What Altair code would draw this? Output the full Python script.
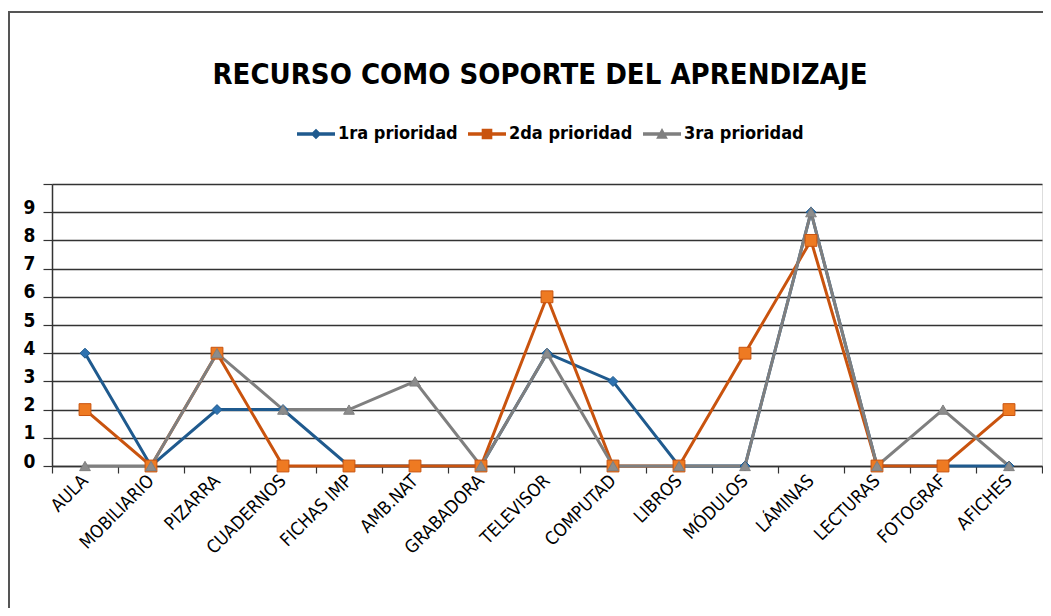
import altair as alt
import pandas as pd

categories = ["AULA", "MOBILIARIO", "PIZARRA", "CUADERNOS", "FICHAS IMP", "AMB.NAT",
              "GRABADORA", "TELEVISOR", "COMPUTAD", "LIBROS", "MÓDULOS", "LÁMINAS",
              "LECTURAS", "FOTOGRAF", "AFICHES"]
series_names = ["1ra prioridad", "2da prioridad", "3ra prioridad"]
prioridad_1 = [4, 0, 2, 2, 0, 0, 0, 4, 3, 0, 0, 9, 0, 0, 0]
prioridad_2 = [2, 0, 4, 0, 0, 0, 0, 6, 0, 0, 4, 8, 0, 0, 2]
prioridad_3 = [0, 0, 4, 2, 2, 3, 0, 4, 0, 0, 0, 9, 0, 2, 0]
y_ticks = list(range(0, 11))
chart_title = "RECURSO COMO SOPORTE DEL APRENDIZAJE"

line_colors = ["#1F5A8E", "#C9530E", "#7F7F7F"]
fill_colors = ["#2E72B0", "#EE7A22", "#8C8C8C"]
shapes = ["diamond", "square", "triangle-up"]
sizes = [100, 140, 115]

rows = []
for name, vals in zip(series_names, [prioridad_1, prioridad_2, prioridad_3]):
    for c, v in zip(categories, vals):
        rows.append({"recurso": c, "serie": name, "valor": v})
df = pd.DataFrame(rows)

FONT = "Liberation Sans Narrow, DejaVu Sans Condensed, Roboto, sans-serif"

bar = "M-1,-0.09H1V0.09H-1Z "
legend_paths = [
    bar + "M0,-0.28L0.28,0L0,0.28L-0.28,0Z",
    bar + "M-0.28,-0.28H0.28V0.28H-0.28Z",
    bar + "M0,-0.31L0.31,0.25H-0.31Z",
]

x_enc = alt.X("recurso:N", sort=categories, bandPosition=0.5,
              scale=alt.Scale(type="band", paddingInner=0, paddingOuter=0),
              axis=alt.Axis(title=None, tickBand="extent", labelAngle=-45, labelAlign="right",
                            labelBaseline="middle", labelFont=FONT, labelFontSize=18,
                            labelColor="#000", labelPadding=5, tickSize=7, tickColor="#333",
                            domainColor="#333", domainWidth=1.5, tickWidth=1.2, grid=False,
                            labelOverlap=False))
y_enc = alt.Y("valor:Q", scale=alt.Scale(domain=[0, 10], nice=False),
              axis=alt.Axis(title=None, values=y_ticks,
                            labelExpr="datum.value == 10 ? '' : datum.label",
                            grid=True, gridColor="#333", gridWidth=1.5,
                            domainColor="#333", domainWidth=1.5, tickColor="#333",
                            tickSize=9, tickWidth=1.2, labelFont=FONT, labelFontSize=19,
                            labelFontWeight="bold", labelColor="#000", labelPadding=8,
                            labelOffset=-5))

leg = alt.Legend(title=None, orient="none", direction="horizontal",
                 legendX=245, legendY=-69, symbolSize=1444, symbolStrokeWidth=0,
                 symbolOpacity=1, labelFont=FONT, labelFontSize=18, labelFontWeight="bold",
                 labelColor="#000", labelOffset=3, columnPadding=10, padding=0)

lines = alt.Chart(df).mark_line(strokeWidth=3).encode(
    x=x_enc, y=y_enc,
    color=alt.Color("serie:N", sort=series_names,
                    scale=alt.Scale(domain=series_names, range=line_colors), legend=leg),
)

point_layers = []
for name, shp, fc, lc, sz in zip(series_names, shapes, fill_colors, line_colors, sizes):
    point_layers.append(
        alt.Chart(df).transform_filter(alt.datum.serie == name)
        .mark_point(filled=True, opacity=1, strokeWidth=1, shape=shp, fill=fc, stroke=lc, size=sz)
        .encode(x=x_enc, y=y_enc)
    )

legend_layer = alt.Chart(df).mark_point(filled=True, size=0).encode(
    x=x_enc, y=y_enc,
    shape=alt.Shape("serie:N", sort=series_names,
                    scale=alt.Scale(domain=series_names, range=legend_paths), legend=leg),
    fill=alt.Fill("serie:N", sort=series_names,
                  scale=alt.Scale(domain=series_names, range=line_colors), legend=leg),
)

title_df = pd.DataFrame({"t": [chart_title]})
title_layer = alt.Chart(title_df).mark_text(
    font=FONT, fontSize=29, fontWeight="bold", color="#000", align="center", baseline="middle"
).encode(text="t:N", x=alt.value(488), y=alt.value(-109))

frame_df = pd.DataFrame({"k": [0]})
frame_top = alt.Chart(frame_df).mark_rule(color="#555", strokeWidth=2).encode(
    x=alt.value(-44), x2=alt.value(991), y=alt.value(-172))
frame_left = alt.Chart(frame_df).mark_rule(color="#555", strokeWidth=2).encode(
    x=alt.value(-43), y=alt.value(-173), y2=alt.value(424))

chart = alt.layer(frame_top, frame_left, title_layer, lines, *point_layers, legend_layer).properties(
    width=990, height=282,
    autosize=alt.AutoSizeParams(type="none"),
    padding={"left": 44, "top": 176, "right": 1, "bottom": 142},
).configure_view(stroke=None).configure(background="white")

chart.save("out.html", embed_options={"renderer": "svg", "actions": False})
